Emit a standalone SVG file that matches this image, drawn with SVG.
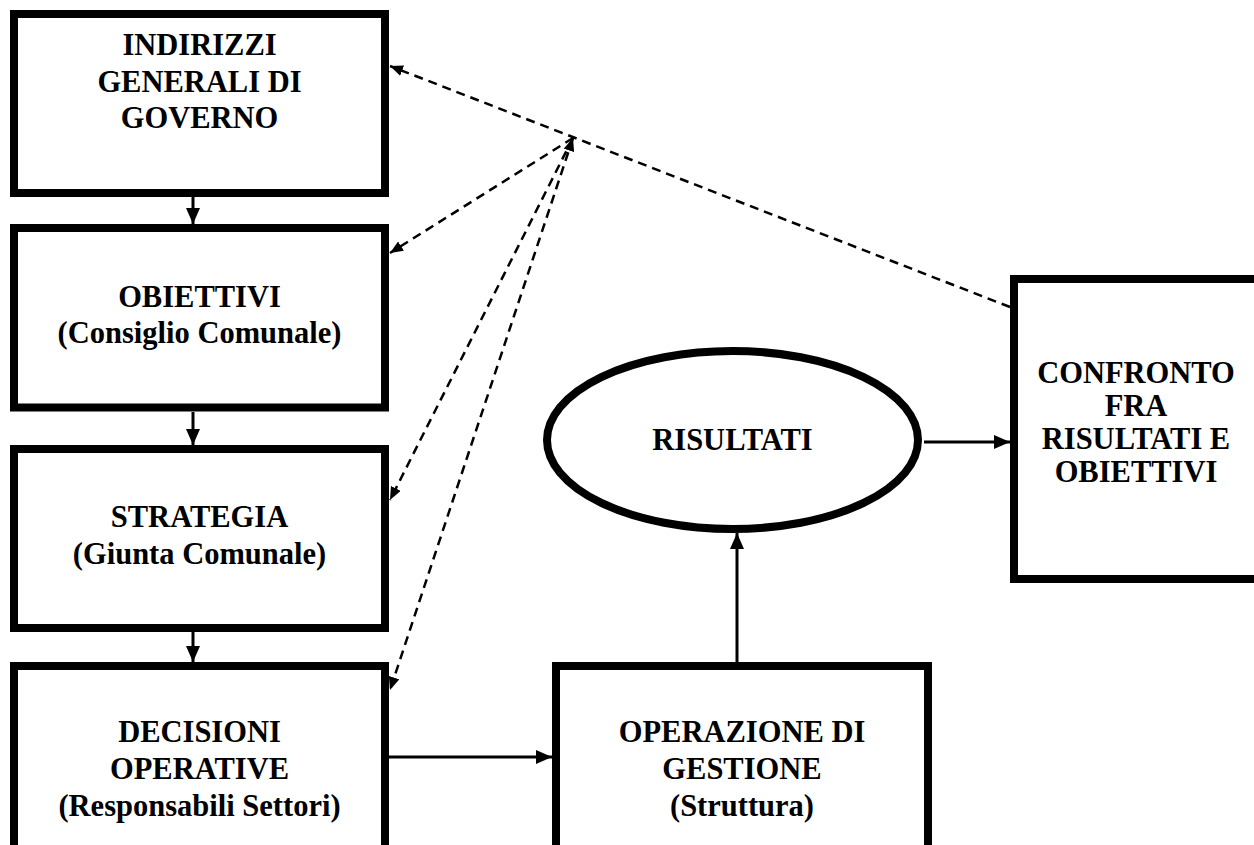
<svg xmlns="http://www.w3.org/2000/svg" width="1254" height="845" viewBox="0 0 1254 845">
  <style>
    .box { fill: #fff; stroke: #000; stroke-width: 8; }
    .ell { fill: #fff; stroke: #000; stroke-width: 8; }
    .t { font-family: "Liberation Serif", "Times New Roman", serif; font-weight: bold; font-size: 30.5px; fill: #000; text-anchor: middle; }
    .solid { stroke: #000; stroke-width: 3; fill: none; }
    .dash { stroke: #000; stroke-width: 2.5; fill: none; stroke-dasharray: 9 6; }
  </style>
  <defs>
    <marker id="ah" markerUnits="userSpaceOnUse" markerWidth="16" markerHeight="14" refX="16" refY="7" orient="auto">
      <path d="M0,0 L16,7 L0,14 z" fill="#000"/>
    </marker>
    <marker id="dh" markerUnits="userSpaceOnUse" markerWidth="13" markerHeight="11" refX="13" refY="5.5" orient="auto-start-reverse">
      <path d="M0,0 L13,5.5 L0,11 z" fill="#000"/>
    </marker>
  </defs>
  <rect width="1254" height="845" fill="#fff"/>

  <g id="connectors">
    <line class="solid" x1="193" y1="197" x2="193" y2="224" marker-end="url(#ah)"/>
    <line class="solid" x1="193" y1="412" x2="193" y2="445" marker-end="url(#ah)"/>
    <line class="solid" x1="193" y1="632" x2="193" y2="662" marker-end="url(#ah)"/>
    <line class="solid" x1="389" y1="757" x2="552" y2="757" marker-end="url(#ah)"/>
    <line class="solid" x1="737" y1="662" x2="737" y2="533" stroke-width="2.5" marker-end="url(#ah)"/>
    <line class="solid" x1="924" y1="442" x2="1010" y2="442" marker-end="url(#ah)"/>
    <line class="dash" x1="1010" y1="307" x2="390" y2="66" marker-end="url(#dh)"/>
    <line class="dash" x1="573" y1="138" x2="390" y2="253" marker-end="url(#dh)"/>
    <line class="dash" x1="573" y1="138" x2="390" y2="500" marker-end="url(#dh)"/>
    <line class="dash" x1="573" y1="138" x2="390" y2="690" marker-start="url(#dh)" marker-end="url(#dh)"/>
  </g>

  <g id="indirizzi">
    <rect class="box" x="14" y="14" width="371" height="179"/>
    <text class="t" x="199.5" y="55">INDIRIZZI</text>
    <text class="t" x="199.5" y="92">GENERALI DI</text>
    <text class="t" x="199.5" y="128">GOVERNO</text>
  </g>
  <g id="obiettivi">
    <rect class="box" x="14" y="228" width="371" height="179.5"/>
    <text class="t" x="199.5" y="307">OBIETTIVI</text>
    <text class="t" x="199.5" y="343">(Consiglio Comunale)</text>
  </g>
  <g id="strategia">
    <rect class="box" x="14" y="449" width="371" height="179"/>
    <text class="t" x="199.5" y="527">STRATEGIA</text>
    <text class="t" x="199.5" y="564">(Giunta Comunale)</text>
  </g>
  <g id="decisioni">
    <rect class="box" x="14" y="666" width="371" height="210"/>
    <text class="t" x="199.5" y="742">DECISIONI</text>
    <text class="t" x="199.5" y="779">OPERATIVE</text>
    <text class="t" x="199.5" y="816">(Responsabili Settori)</text>
  </g>
  <g id="operazione">
    <rect class="box" x="556" y="666" width="372" height="210"/>
    <text class="t" x="742" y="742">OPERAZIONE DI</text>
    <text class="t" x="742" y="779">GESTIONE</text>
    <text class="t" x="742" y="816">(Struttura)</text>
  </g>
  <g id="risultati">
    <ellipse class="ell" cx="732.5" cy="440" rx="185.5" ry="89"/>
    <text class="t" x="732.5" y="450">RISULTATI</text>
  </g>
  <g id="confronto">
    <rect class="box" x="1014" y="279" width="260" height="300"/>
    <text class="t" x="1136" y="383">CONFRONTO</text>
    <text class="t" x="1136" y="416">FRA</text>
    <text class="t" x="1136" y="449">RISULTATI E</text>
    <text class="t" x="1136" y="482">OBIETTIVI</text>
  </g>
</svg>
